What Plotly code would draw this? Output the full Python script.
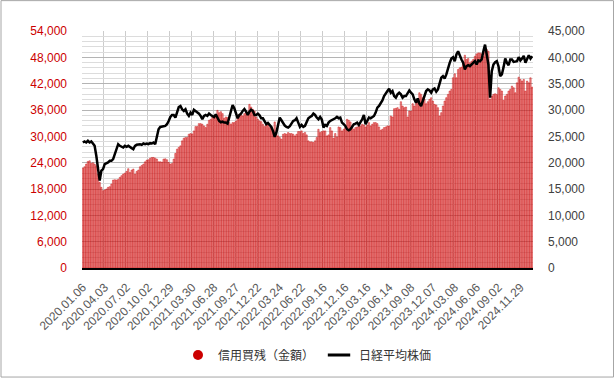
import plotly.graph_objects as go

# ---- data (weekly) ----
tick_labels = ["2020.01.06", "2020.04.03", "2020.07.02", "2020.10.02", "2020.12.29",
               "2021.03.30", "2021.06.28", "2021.09.27", "2021.12.22", "2022.03.24",
               "2022.06.22", "2022.09.16", "2022.12.16", "2023.03.16", "2023.06.14",
               "2023.09.08", "2023.12.07", "2024.03.08", "2024.06.06", "2024.09.02",
               "2024.11.29"]

margin_buying = [
    22770, 23070, 23670, 24280, 24430, 23820, 23980, 23670, 23300, 21400,
    19510, 18380, 17620, 17770, 18000, 18380, 18530, 19130, 20040, 20120,
    20040, 20190, 20650, 21030, 21400, 21630, 22010, 22620, 21780, 22310,
    22540, 21400, 22010, 22310, 23070, 23370, 23670, 24200, 24580, 24660,
    25030, 25190, 25190, 25030, 24810, 24200, 24200, 24130, 24810, 24880,
    24660, 24050, 23670, 23820, 24810, 26090, 27080, 27460, 27830, 28970,
    29570, 29720, 29720, 30480, 30630, 30550, 31240, 32220, 32220, 32900,
    32900, 32750, 32370, 31990, 32750, 33660, 33880, 34410, 34410, 34640,
    35920, 35390, 35620, 35170, 34110, 34410, 34260, 33130, 32750, 33130,
    33130, 33510, 34640, 35020, 34870, 34640, 35170, 35770, 35390, 37290,
    36680, 36150, 35770, 34410, 33880, 33510, 33350, 32750, 32220, 32750,
    32600, 31990, 32220, 31240, 33280, 30630, 30100, 29720, 29350, 30480,
    30630, 30480, 30860, 30630, 30630, 30480, 30100, 30480, 31090, 31090,
    31240, 30630, 30900, 30330, 28970, 28740, 28740, 28590, 28970, 29720,
    31610, 30860, 31090, 31240, 31240, 30100, 30330, 31990, 31240, 29570,
    30630, 29870, 32140, 31990, 31240, 31610, 31990, 33880, 33660, 33280,
    31990, 31610, 31990, 32140, 32600, 32370, 32750, 32600, 32140, 32600,
    33130, 32370, 32750, 33130, 33130, 32900, 32140, 31390, 31610, 31990,
    32140, 32370, 32370, 34640, 34410, 36300, 36380, 36530, 36150, 37890,
    36910, 36530, 36680, 34410, 35770, 35770, 37440, 36910, 37900, 37800,
    39930, 39560, 38800, 38420, 37440, 37890, 38420, 38800, 38040, 37290,
    37140, 36530, 34640, 35390, 36910, 38040, 38800, 39560, 40310, 40690,
    43340, 44250, 43340, 45230, 45610, 45760, 46740, 48480, 47500, 47720,
    46740, 47120, 47500, 48250, 48780, 49010, 49010, 48780, 48250, 49540,
    49770, 49390, 38420, 39180, 39560, 39710, 39560, 41070, 40690, 40310,
    38190, 39180, 39560, 40310, 40690, 41450, 41070, 39930, 42200, 43490,
    42960, 42580, 42960, 40310, 42580, 42200, 43340, 41220,
]

nikkei = [
    23830, 24020, 23830, 24140, 23830, 24020, 23640, 23200, 21310, 19300,
    16600, 18470, 18780, 19730, 19860, 20050, 20360, 20360, 20680, 21620,
    22570, 23510, 23200, 23010, 22880, 23200, 23010, 23200, 22880, 22760,
    22570, 23200, 23390, 23510, 23510, 23390, 23640, 23510, 23640, 23510,
    23700, 23640, 23830, 23510, 25090, 26350, 26790, 26790, 26920, 26980,
    27300, 27920, 28680, 29060, 29060, 28560, 29500, 30570, 30760, 30130,
    29820, 30130, 29310, 28870, 29500, 29060, 30030, 29820, 29500, 29310,
    28870, 28240, 28870, 29060, 28870, 29310, 29060, 28870, 28680, 29180,
    28560, 27920, 27670, 27800, 27610, 27610, 27420, 28680, 30130, 30950,
    30320, 29500, 28430, 29060, 29310, 29820, 30190, 29690, 29060, 29690,
    30070, 29820, 29060, 29060, 29310, 28990, 28430, 28430, 27920, 27300,
    27550, 27170, 26790, 26030, 24900, 25720, 27300, 28560, 28050, 27420,
    27040, 26790, 26660, 26920, 27480, 27920, 28050, 28430, 27610, 26790,
    27170, 26790, 27000, 27920, 28430, 28680, 28870, 29310, 29060, 28560,
    28240, 28680, 28180, 26660, 27170, 26980, 27610, 27920, 28050, 28240,
    28430, 28680, 28430, 28560, 27610, 27300, 26980, 26350, 26160, 26350,
    26980, 27300, 27420, 27610, 27170, 27610, 28240, 29060, 27300, 27920,
    28560, 28430, 28680, 28870, 29500, 30450, 30760, 31200, 31830, 32650,
    33280, 33600, 34040, 33280, 33600, 32650, 32340, 32970, 33280, 32970,
    32340, 32650, 32650, 33090, 33720, 33280, 32970, 32020, 31390, 32210,
    31200, 30760, 31710, 32650, 33600, 33910, 33720, 33280, 33910, 34100,
    33470, 33910, 35170, 36120, 36430, 35990, 36750, 38010, 38960, 39770,
    40030, 39270, 40530, 41160, 40530, 39590, 38960, 37690, 38320, 38510,
    38320, 38640, 38770, 39270, 38640, 39400, 39270, 39590, 41160, 42420,
    40530, 38640, 32340, 37380, 38640, 39080, 39270, 38320, 36430, 36750,
    38140, 39770, 38960, 38510, 39590, 39590, 39140, 39270, 39270, 40030,
    39400, 39770, 40280, 38960, 39900, 40400, 39770, 40220,
]

series_names = ["信用買残（金額）", "日経平均株価"]
label_step = 13  # one tick label every 13 weeks

weeks = list(range(len(margin_buying)))
label_pos = [i * label_step for i in range(len(tick_labels))]

FONT = "Liberation Sans, Arial, Noto Sans CJK JP, sans-serif"
RED = "#cc0000"

fig = go.Figure()
fig.add_trace(go.Bar(
    x=weeks, y=margin_buying, yaxis="y", showlegend=False,
    marker=dict(color="rgba(218,50,50,0.5)", line=dict(color="rgba(204,0,0,0.85)", width=0.5)),
    hoverinfo="skip",
))
fig.add_trace(go.Scatter(
    x=weeks, y=nikkei, yaxis="y2", mode="lines", showlegend=False,
    line=dict(color="black", width=2.5), hoverinfo="skip",
))
# legend entries
fig.add_trace(go.Scatter(
    x=[None], y=[None], mode="markers", name=series_names[0],
    marker=dict(symbol="circle", size=10, color=RED),
))
fig.add_trace(go.Scatter(
    x=[None], y=[None], mode="markers", name=series_names[1], yaxis="y2",
    marker=dict(symbol="line-ew", size=16, line=dict(width=3, color="black")),
))

fig.update_layout(
    width=615, height=380, autosize=False,
    margin=dict(l=82, r=82, t=31, b=111),
    paper_bgcolor="white", plot_bgcolor="white",
    font=dict(family=FONT, size=12, color="#404040"),
    bargap=0.2,
    xaxis=dict(
        range=[-0.5, len(weeks) - 0.5],
        tickmode="array", tickvals=label_pos, ticktext=tick_labels,
        tickangle=-45, tickfont=dict(size=12, color="#595959"),
        showgrid=False, zeroline=False,
        showline=True, linecolor="black", linewidth=1.5,
        ticks="", ticklabelstandoff=6,
        minor=dict(tick0=-0.5, dtick=label_step, showgrid=True,
                   gridcolor="#cccccc", gridwidth=1),
    ),
    yaxis=dict(
        range=[0, 54000], dtick=6000, tickformat=",",
        tickfont=dict(size=12, color=RED),
        showgrid=True, gridcolor="#b4b4b4", gridwidth=1,
        zeroline=False, showline=False, ticks="",
        ticklabelstandoff=14,
        minor=dict(dtick=1200, showgrid=True, gridcolor="#dcdcdc", gridwidth=1),
    ),
    yaxis2=dict(
        range=[0, 45000], dtick=5000, tickformat=",",
        overlaying="y", side="right",
        tickfont=dict(size=12, color="#404040"),
        showgrid=False, zeroline=False, showline=False, ticks="",
        ticklabelstandoff=14,
    ),
    legend=dict(
        orientation="h", x=0.5, xanchor="center", y=-0.361, yanchor="middle",
        font=dict(size=12, color="#333333"), bgcolor="rgba(0,0,0,0)",
    ),
    shapes=[dict(
        type="rect", xref="paper", yref="paper",
        x0=(1 - 82) / 451, x1=(613.5 - 82) / 451,
        y0=(269 - 378.5) / 238, y1=(269 - 0.5) / 238,
        line=dict(color="#a6a6a6", width=1), fillcolor="rgba(0,0,0,0)", layer="below",
    )],
)

fig.write_html("out.html", config={"displayModeBar": False},
               post_script="document.body.style.margin='0';")
